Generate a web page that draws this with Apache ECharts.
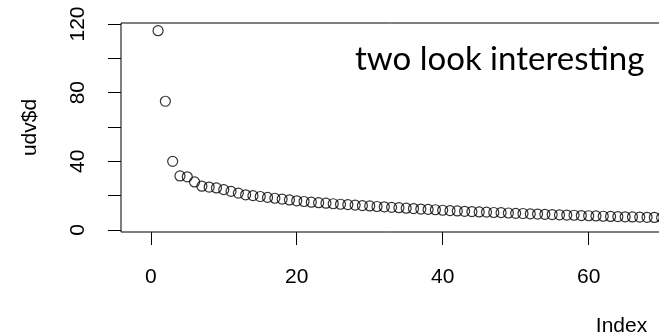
<!DOCTYPE html>
<html>
<head>
<meta charset="utf-8">
<script src="https://cdn.jsdelivr.net/npm/echarts@6/dist/echarts.min.js"></script>
<style>html,body{margin:0;padding:0;background:#fff;}#c{width:659px;height:336px;}</style>
</head>
<body>
<div id="c"></div>
<script>
// index of each singular value
var indexValues = [1,2,3,4,5,6,7,8,9,10,11,12,13,14,15,16,17,18,19,20,21,22,23,24,25,26,27,28,29,30,31,32,33,34,35,36,37,38,39,40,41,42,43,44,45,46,47,48,49,50,51,52,53,54,55,56,57,58,59,60,61,62,63,64,65,66,67,68,69,70];
// udv$d values
var dValues = [116.1,75,40,31.5,31,28,25.5,25,24.5,23.5,22.5,21.5,20.5,20,19.5,19,18.5,18,17.5,17,16.6,16.2,15.9,15.6,15.3,15,14.8,14.5,14.2,14,13.7,13.5,13.2,13,12.7,12.5,12.2,12,11.8,11.5,11.3,11.1,10.9,10.7,10.5,10.4,10.2,10.1,9.9,9.7,9.6,9.4,9.3,9.1,9.0,8.8,8.7,8.6,8.4,8.3,8.2,8.0,7.9,7.8,7.7,7.6,7.5,7.4,7.3,7.2];
var xTicks = [0,20,40,60,80,100,120];
var xLabels = [0,20,40,60,80,100,120];
var yTicks = [0,20,40,60,80,100,120];
var yLabels = [0,40,80,120];
var annotation = 'two look interesting';
var xTitle = 'Index';
var yTitle = 'udv$d';

var points = indexValues.map(function(x, i){ return [x, dValues[i]]; });
var font = '"Liberation Sans", Arial, sans-serif';

var chart = echarts.init(document.getElementById('c'), null, {renderer: 'canvas'});
chart.setOption({
  animation: false,
  backgroundColor: '#fff',
  grid: {left: 121, top: 23, width: 1001, height: 209, show: true, borderColor: '#000', borderWidth: 1, backgroundColor: 'transparent', containLabel: false, outerBoundsMode: 'none'},
  xAxis: {
    type: 'value', min: -4.08, max: 133.08,
    splitLine: {show: false},
    axisLine: {show: false, onZero: false},
    axisTick: {show: true, inside: false, length: 13, lineStyle: {color: '#000', width: 1}, customValues: xTicks},
    axisLabel: {show: true, color: '#000', fontFamily: font, fontSize: 21, margin: 35, customValues: xLabels},
    name: xTitle, nameLocation: 'middle', nameGap: 84,
    nameTextStyle: {color: '#000', fontFamily: font, fontSize: 21}
  },
  yAxis: {
    type: 'value', min: -1.17, max: 120.6,
    splitLine: {show: false},
    axisLine: {show: false, onZero: false},
    axisTick: {show: true, inside: false, length: 13, lineStyle: {color: '#000', width: 1}, customValues: yTicks},
    axisLabel: {show: true, color: '#000', fontFamily: font, fontSize: 21, margin: 32, rotate: 90, customValues: yLabels},
    name: yTitle, nameLocation: 'middle', nameGap: 80, nameRotate: 90,
    nameTextStyle: {color: '#000', fontFamily: font, fontSize: 21}
  },
  graphic: [{
    type: 'text', left: 355, top: 43,
    style: {text: annotation, fill: '#000', font: '33px Lato, "Open Sans", sans-serif'}
  }],
  series: [{
    type: 'scatter',
    data: points,
    symbol: 'circle',
    symbolSize: 10,
    itemStyle: {color: 'rgba(0,0,0,0)', borderColor: '#000', borderWidth: 1.2},
    clip: false
  }]
});
</script>
</body>
</html>
